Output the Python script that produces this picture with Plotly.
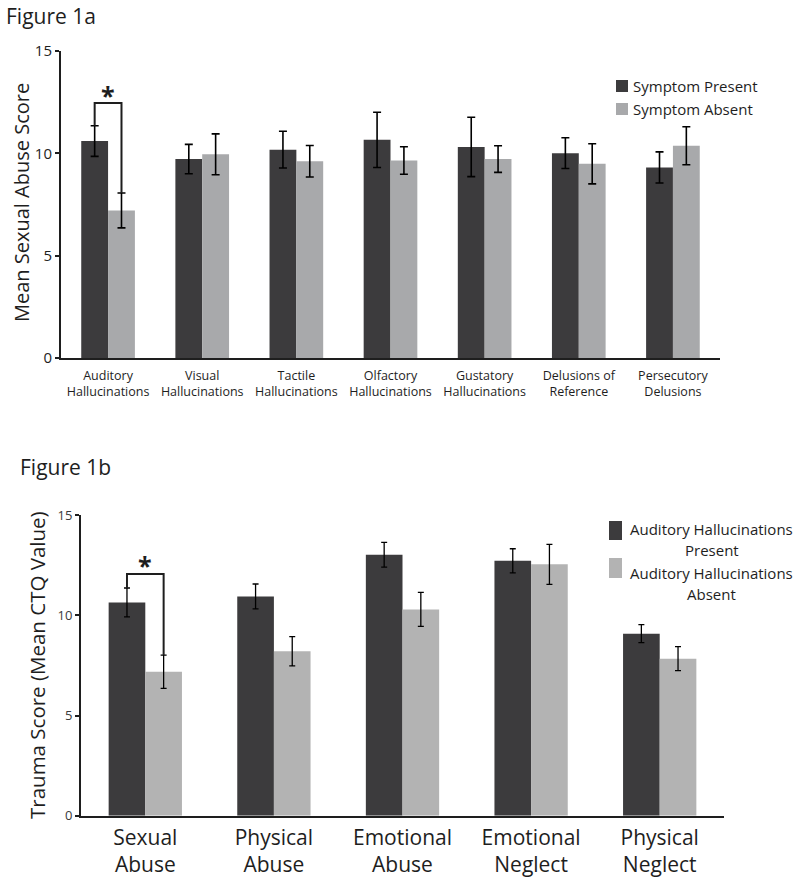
import plotly.graph_objects as go

# ---------------- data: Figure 1a ----------------
a_categories = ["Auditory<br>Hallucinations", "Visual<br>Hallucinations", "Tactile<br>Hallucinations",
                "Olfactory<br>Hallucinations", "Gustatory<br>Hallucinations", "Delusions of<br>Reference",
                "Persecutory<br>Delusions"]
a_present = [10.6, 9.72, 10.18, 10.66, 10.31, 10.01, 9.31]
a_present_err = [0.75, 0.72, 0.9, 1.35, 1.45, 0.75, 0.76]
a_absent = [7.21, 9.95, 9.61, 9.65, 9.72, 9.49, 10.37]
a_absent_err = [0.85, 1.0, 0.77, 0.67, 0.65, 0.98, 0.93]
a_yticks = [0, 5, 10, 15]

# ---------------- data: Figure 1b ----------------
b_categories = ["Sexual<br>Abuse", "Physical<br>Abuse", "Emotional<br>Abuse", "Emotional<br>Neglect",
                "Physical<br>Neglect"]
b_present = [10.65, 10.95, 13.03, 12.73, 9.09]
b_present_err = [0.72, 0.62, 0.62, 0.6, 0.45]
b_absent = [7.19, 8.21, 10.3, 12.55, 7.84]
b_absent_err = [0.83, 0.73, 0.85, 1.0, 0.6]
b_yticks = [0, 5, 10, 15]

DARK = "#3c3b3d"
LIGHT_A = "#a8a9ab"
LIGHT_B = "#b3b3b3"
INK = "#1e1e1e"
FONT = "Open Sans"

W, H = 800, 881
BARGAP = 0.43

def px_x(p):
    return p / W

def px_y(p):
    return 1 - p / H

fig = go.Figure()

# Figure 1a bars
fig.add_trace(go.Bar(x=a_categories, y=a_present, marker_color=DARK, marker_line_width=0,
                     error_y=dict(type="data", array=a_present_err, color="black", thickness=1.6, width=4),
                     xaxis="x", yaxis="y", showlegend=False))
fig.add_trace(go.Bar(x=a_categories, y=a_absent, marker_color=LIGHT_A, marker_line_width=0,
                     error_y=dict(type="data", array=a_absent_err, color="black", thickness=1.6, width=4),
                     xaxis="x", yaxis="y", showlegend=False))
# Figure 1b bars
fig.add_trace(go.Bar(x=b_categories, y=b_present, marker_color=DARK, marker_line_width=0,
                     error_y=dict(type="data", array=b_present_err, color="black", thickness=1.3, width=3),
                     xaxis="x2", yaxis="y2", showlegend=False))
fig.add_trace(go.Bar(x=b_categories, y=b_absent, marker_color=LIGHT_B, marker_line_width=0,
                     error_y=dict(type="data", array=b_absent_err, color="black", thickness=1.3, width=3),
                     xaxis="x2", yaxis="y2", showlegend=False))

axis_common = dict(showgrid=False, zeroline=False, showline=True, linecolor=INK, linewidth=2,
                   automargin=False)

fig.update_layout(
    width=W, height=H,
    margin=dict(l=0, r=0, t=0, b=0, pad=0, autoexpand=False),
    paper_bgcolor="white", plot_bgcolor="white",
    barmode="group", bargap=BARGAP, bargroupgap=0,
    font=dict(family=FONT, color=INK),
    showlegend=False,
    xaxis=dict(domain=[px_x(61), px_x(720)], anchor="y", range=[-0.5, 6.5], ticks="",
               ticklabelstandoff=5, tickfont=dict(size=12.5, color=INK), **axis_common),
    yaxis=dict(domain=[px_y(358), px_y(51)], anchor="x", range=[0, 15], tickvals=a_yticks,
               ticks="outside", ticklen=4, tickwidth=2, tickcolor=INK,
               tickfont=dict(size=15, color=INK), **axis_common),
    xaxis2=dict(domain=[px_x(81), px_x(724)], anchor="y2", range=[-0.5, 4.5], ticks="",
                ticklabelstandoff=2, tickfont=dict(size=21, color=INK), **axis_common),
    yaxis2=dict(domain=[px_y(815.7), px_y(515.3)], anchor="x2", range=[0, 15], tickvals=b_yticks,
                ticks="outside", ticklen=4, tickwidth=2, tickcolor=INK,
                tickfont=dict(size=13, color="#3a3a3a"), **axis_common),
)

annotations = []
shapes = []

# Figure titles
annotations.append(dict(text="Figure 1a", x=px_x(4), y=px_y(16), xref="paper", yref="paper",
                        xanchor="left", yanchor="middle", showarrow=False, font=dict(size=21, color=INK)))
annotations.append(dict(text="Figure 1b", x=px_x(18), y=px_y(467), xref="paper", yref="paper",
                        xanchor="left", yanchor="middle", showarrow=False, font=dict(size=21, color=INK)))

# Y axis titles
annotations.append(dict(text="Mean Sexual Abuse Score", x=px_x(22), y=px_y(203), xref="paper", yref="paper",
                        xanchor="center", yanchor="middle", textangle=-90, showarrow=False,
                        font=dict(size=20, color=INK)))
annotations.append(dict(text="Trauma Score (Mean CTQ Value)", x=px_x(37), y=px_y(665), xref="paper", yref="paper",
                        xanchor="center", yanchor="middle", textangle=-90, showarrow=False,
                        font=dict(size=20.5, color=INK)))

# Significance brackets (between Present / Absent bars of the first group)
off = (1 - BARGAP) / 4
def bracket(xref, yref, y_bar, left_top, right_top, star_y, lw):
    shapes.append(dict(type="path", xref=xref, yref=yref,
                       path=f"M {-off} {left_top} L {-off} {y_bar} L {off} {y_bar} L {off} {right_top}",
                       line=dict(color=INK, width=lw)))
    annotations.append(dict(text="<b>*</b>", x=0, y=star_y, xref=xref, yref=yref, xanchor="center",
                            yanchor="middle", showarrow=False, font=dict(size=25, color=INK)))

bracket("x", "y", 12.46, a_present[0] + a_present_err[0], a_absent[0] + a_absent_err[0], 12.85, 2)
bracket("x2", "y2", 12.07, b_present[0] + b_present_err[0], b_absent[0] + b_absent_err[0], 12.5, 2)

# Legend, Figure 1a
for i, (name, col) in enumerate([("Symptom Present", DARK), ("Symptom Absent", LIGHT_A)]):
    y0 = 80 + i * 23
    shapes.append(dict(type="rect", xref="paper", yref="paper", x0=px_x(616), x1=px_x(628),
                       y0=px_y(y0), y1=px_y(y0 + 12), fillcolor=col, line_width=0))
    annotations.append(dict(text=name, x=px_x(631), y=px_y(y0 + 6), xref="paper", yref="paper",
                            xanchor="left", yanchor="middle", showarrow=False, font=dict(size=15, color=INK)))

# Legend, Figure 1b
legend_b = [(["Auditory Hallucinations", "Present"], DARK, 521, 19, [529, 550]),
            (["Auditory Hallucinations", "Absent"], LIGHT_B, 558, 20, [573, 594])]
for lines, col, y0, h, text_ys in legend_b:
    shapes.append(dict(type="rect", xref="paper", yref="paper", x0=px_x(609), x1=px_x(622),
                       y0=px_y(y0), y1=px_y(y0 + h), fillcolor=col, line_width=0))
    for t, ty in zip(lines, text_ys):
        annotations.append(dict(text=t, x=px_x(711.5), y=px_y(ty), xref="paper", yref="paper",
                                xanchor="center", yanchor="middle", showarrow=False,
                                font=dict(size=15, color=INK)))

fig.update_layout(annotations=annotations, shapes=shapes)
fig.write_html("out.html", config={"displayModeBar": False},
               post_script="document.body.style.margin='0';document.body.style.overflow='hidden';")
